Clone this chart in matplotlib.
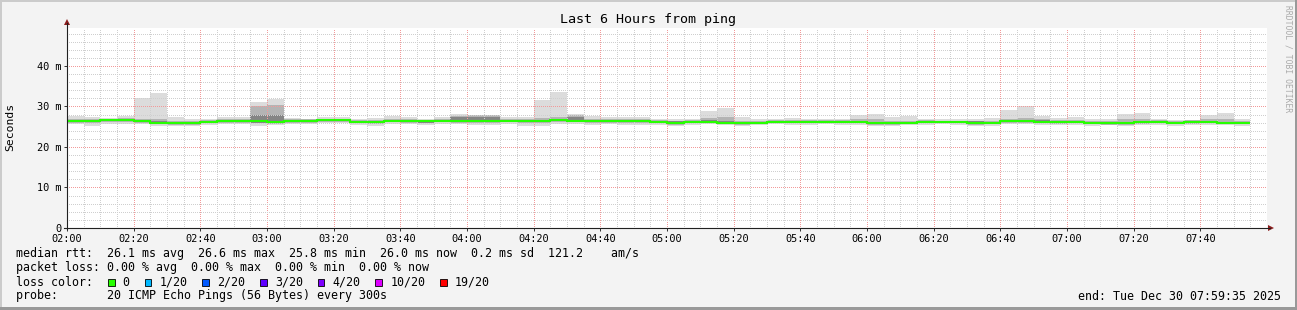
import numpy as np
import matplotlib
matplotlib.use("Agg")
import matplotlib.pyplot as plt
from matplotlib.patches import Rectangle, Polygon
from matplotlib.lines import Line2D

# 5 minute bins starting at 02:00, values in ms
rtt_median = [26.4, 26.5, 26.6, 26.6, 26.4, 26.0, 25.9, 25.9, 26.2, 26.4,
              26.4, 26.3, 26.1, 26.3, 26.4, 26.6, 26.6, 26.2, 26.1, 26.5,
              26.4, 26.3, 26.5, 26.5, 26.5, 26.5, 26.5, 26.5, 26.5, 26.6,
              26.5, 26.4, 26.4, 26.4, 26.4, 26.2, 25.9, 26.2, 26.2, 26.0,
              25.9, 25.9, 26.2, 26.2, 26.2, 26.2, 26.2, 26.2, 25.9, 25.9,
              25.9, 26.2, 26.2, 26.2, 25.9, 25.9, 26.4, 26.4, 26.2, 26.1,
              26.1, 26.0, 25.9, 25.9, 26.1, 26.1, 25.9, 26.1, 26.1, 25.9,
              26.0]
rtt_max = [27.6, 27.3, 27.2, 27.6, 32.2, 33.3, 27.5, 27.0, 26.9, 27.3,
           27.5, 31.1, 31.9, 27.2, 27.0, 27.4, 27.4, 27.0, 27.1, 27.6,
           27.4, 27.0, 27.3, 28.1, 28.0, 28.0, 27.5, 27.4, 31.6, 33.6,
           28.1, 27.6, 27.5, 27.5, 27.3, 27.0, 26.9, 27.0, 28.9, 29.7,
           27.5, 26.8, 26.8, 27.2, 27.0, 27.0, 27.0, 28.0, 28.1, 27.5,
           27.7, 27.0, 26.8, 26.8, 27.0, 27.2, 29.1, 30.2, 27.7, 27.2,
           27.5, 26.9, 26.9, 28.1, 28.5, 27.0, 26.7, 26.7, 27.9, 28.5,
           26.9]
rtt_min = [25.7, 25.2, 25.6, 25.7, 25.7, 25.3, 25.3, 25.3, 25.5, 25.7,
           25.6, 25.3, 25.4, 25.6, 25.6, 25.8, 25.8, 25.5, 25.3, 25.6,
           25.6, 25.4, 25.7, 25.6, 25.4, 25.5, 25.6, 25.3, 25.2, 25.6,
           25.6, 25.5, 25.6, 25.4, 25.5, 25.4, 25.3, 25.4, 25.6, 25.4,
           25.3, 25.4, 25.6, 25.5, 25.5, 25.6, 25.5, 25.4, 25.2, 25.3,
           25.4, 25.5, 25.6, 25.5, 25.2, 25.3, 25.6, 25.6, 25.4, 25.4,
           25.5, 25.3, 25.4, 25.2, 25.4, 25.5, 25.3, 25.4, 25.5, 25.4,
           25.3]
# inner smoke (middle pings)
mid_hi = [26.9, 27.0, 27.0, 27.1, 27.0, 27.0, 26.5, 26.4, 26.6, 26.9,
          26.9, 30.0, 30.4, 26.8, 26.8, 27.0, 27.0, 26.7, 26.6, 27.0,
          26.9, 26.7, 26.9, 27.6, 27.9, 27.9, 26.9, 26.9, 27.2, 27.4,
          27.9, 26.9, 26.9, 26.9, 26.8, 26.6, 26.5, 26.6, 27.2, 27.3,
          26.5, 26.4, 26.6, 26.7, 26.6, 26.6, 26.7, 27.0, 27.0, 26.4,
          26.5, 26.6, 26.5, 26.5, 26.5, 26.4, 27.0, 27.1, 26.8, 26.7,
          26.6, 26.5, 26.4, 27.0, 27.0, 26.6, 26.4, 26.6, 26.8, 26.8,
          26.5]
mid_lo = [26.0, 25.8, 26.1, 26.2, 26.0, 25.6, 25.5, 25.5, 25.8, 26.0,
          26.0, 25.8, 25.7, 25.9, 26.0, 26.2, 26.2, 25.8, 25.6, 26.1,
          26.0, 25.8, 26.1, 26.0, 25.9, 26.0, 26.1, 25.9, 25.9, 26.1,
          26.1, 26.0, 26.0, 25.9, 26.0, 25.8, 25.5, 25.8, 25.9, 25.7,
          25.5, 25.6, 25.8, 25.8, 25.8, 25.9, 25.8, 25.8, 25.5, 25.5,
          25.6, 25.8, 25.9, 25.8, 25.5, 25.6, 26.0, 26.0, 25.8, 25.7,
          25.8, 25.6, 25.5, 25.5, 25.7, 25.8, 25.6, 25.7, 25.8, 25.6,
          25.6]
core_hi = [26.6, 26.7, 26.8, 26.8, 26.6, 26.3, 26.1, 26.1, 26.4, 26.6,
           26.6, 28.0, 28.0, 26.5, 26.6, 26.8, 26.8, 26.4, 26.3, 26.7,
           26.6, 26.5, 26.7, 27.4, 27.5, 27.3, 26.7, 26.7, 26.7, 26.8,
           27.3, 26.6, 26.6, 26.6, 26.6, 26.4, 26.4, 26.4, 26.6, 26.5,
           26.1, 26.1, 26.5, 26.4, 26.4, 26.4, 26.4, 26.4, 26.1, 26.1,
           26.1, 26.4, 26.4, 26.4, 26.3, 26.1, 26.6, 26.6, 26.6, 26.5,
           26.3, 26.2, 26.1, 26.2, 26.3, 26.3, 26.1, 26.5, 26.3, 26.1,
           26.2]
core_lo = [26.2, 26.2, 26.4, 26.4, 26.2, 25.8, 25.7, 25.7, 26.0, 26.2,
           26.2, 26.0, 25.8, 26.1, 26.2, 26.4, 26.4, 26.0, 25.8, 26.3,
           26.2, 26.0, 26.3, 26.3, 26.2, 26.3, 26.3, 26.2, 26.2, 26.4,
           26.3, 26.2, 26.2, 26.2, 26.2, 25.9, 25.6, 26.0, 26.0, 25.8,
           25.6, 25.7, 26.0, 26.0, 26.0, 26.0, 25.9, 26.0, 25.7, 25.7,
           25.7, 26.0, 26.0, 26.0, 25.6, 25.7, 26.2, 26.2, 26.0, 25.9,
           25.9, 25.8, 25.7, 25.7, 25.9, 25.9, 25.7, 25.9, 25.9, 25.6,
           25.7]

x_labels = ["02:00", "02:20", "02:40", "03:00", "03:20", "03:40", "04:00",
            "04:20", "04:40", "05:00", "05:20", "05:40", "06:00", "06:20",
            "06:40", "07:00", "07:20", "07:40"]
y_ticks = [0, 10, 20, 30, 40]
y_labels = ["0", "10 m", "20 m", "30 m", "40 m"]

loss_labels = ["0", "1/20", "2/20", "3/20", "4/20", "10/20", "19/20"]
loss_colors = ["#26ff00", "#00b8ff", "#0059ff", "#5e00ff", "#7e00ff", "#dd00ff", "#ff0000"]

# legend numbers
rtt_avg, rtt_mx, rtt_mn, rtt_now, rtt_sd, rtt_ams = 26.1, 26.6, 25.8, 26.0, 0.2, 121.2
loss_avg, loss_mx, loss_mn, loss_now = 0.0, 0.0, 0.0, 0.0

W, H = 1297, 310


def fx(px):
    return px / W


def fy(py):
    return 1 - py / H


plt.rcParams['font.family'] = ['DejaVu Sans Mono']

fig = plt.figure(figsize=(W / 100, H / 100), dpi=100, facecolor="#f3f3f3")
ax = fig.add_axes([fx(67), fy(228), 1200 / W, 200.5 / H])
ax.set_facecolor("white")
ax.set_xlim(0, 360)
ax.set_ylim(0, 49.5)

edges = np.arange(len(rtt_median) + 1) * 5
starts = edges[:-1]

# smoke layers
ax.bar(starts, np.array(rtt_max) - np.array(rtt_min), width=5, bottom=rtt_min,
       align="edge", color="#dcdcdc", linewidth=0, zorder=1)
ax.bar(starts, np.array(mid_hi) - np.array(mid_lo), width=5, bottom=mid_lo,
       align="edge", color="#b4b4b4", linewidth=0, zorder=1)
ax.bar(starts, np.array(core_hi) - np.array(core_lo), width=5, bottom=core_lo,
       align="edge", color="#858585", linewidth=0, zorder=1)
# median
ax.stairs(rtt_median, edges, baseline=None, color="#26ff00", linewidth=1.5, zorder=3)

# grid
ax.set_xticks(np.arange(0, 360, 20))
ax.set_xticklabels(x_labels)
ax.set_xticks([m for m in range(5, 360, 5) if m % 20], minor=True)
ax.set_yticks(y_ticks)
ax.set_yticklabels(y_labels)
ax.set_yticks([v for v in range(2, 50, 2) if v % 10], minor=True)
ax.grid(which="minor", color="#cfcfcf", linestyle=(0, (1, 2)), linewidth=0.72,
        antialiased=False)
ax.grid(which="major", color="#f29a9a", linestyle=(0, (1, 2)), linewidth=0.72,
        antialiased=False)
ax.tick_params(which="major", length=2, width=0.72, color="#333333",
               labelsize=7.4, pad=2)
ax.tick_params(which="minor", length=0)
for s in ax.spines.values():
    s.set_visible(False)

# axes with arrows
axis_col = "#202020"
fig.add_artist(Line2D([fx(67), fx(67)], [fy(229), fy(23)], color=axis_col, lw=0.8))
fig.add_artist(Line2D([fx(64), fx(1270)], [fy(228), fy(228)], color=axis_col, lw=0.8))
arrow_col = "#8b1c1c"
fig.add_artist(Polygon([[fx(64), fy(25)], [fx(70), fy(25)], [fx(67), fy(19)]],
                       closed=True, color=arrow_col, lw=0))
fig.add_artist(Polygon([[fx(1268), fy(225)], [fx(1268), fy(231)], [fx(1274), fy(228)]],
                       closed=True, color=arrow_col, lw=0))

# frame
fig.add_artist(Rectangle((0, fy(2)), 1, 2 / H, color="#cbcbcb", lw=0))
fig.add_artist(Rectangle((0, 0), 2 / W, 1, color="#cbcbcb", lw=0))
fig.add_artist(Rectangle((0, 0), 1, 3 / H, color="#999999", lw=0))
fig.add_artist(Rectangle((1 - 2 / W, 0), 2 / W, 1, color="#999999", lw=0))

fig.text(0.5, fy(19), "Last 6 Hours from ping", ha="center", va="center", fontsize=9.6)
fig.text(fx(10), fy(127), "Seconds", rotation=90, ha="center", va="center", fontsize=8.2)
fig.text(fx(1288), fy(5), "RRDTOOL / TOBI OETIKER", rotation=270, ha="center",
         va="top", fontsize=5.8, color="#aaaaaa")

# legend
x0 = 16
cw = 7.0
fs = cw / 0.602 * 0.72
line1 = (f"median rtt:  {rtt_avg:.1f} ms avg  {rtt_mx:.1f} ms max  {rtt_mn:.1f} ms min  "
         f"{rtt_now:.1f} ms now  {rtt_sd:.1f} ms sd  {rtt_ams:.1f}    am/s")
line2 = (f"packet loss: {loss_avg:.2f} % avg  {loss_mx:.2f} % max  "
         f"{loss_mn:.2f} % min  {loss_now:.2f} % now")
line4 = "probe:       20 ICMP Echo Pings (56 Bytes) every 300s"

for txt, y in [(line1, 254), (line2, 268), ("loss color:", 282), (line4, 296)]:
    fig.text(fx(x0), fy(y), txt, ha="left", va="center", fontsize=fs)

# swatch + label entries
px = x0 + 13 * cw + 1
for lbl, c in zip(loss_labels, loss_colors):
    fig.add_artist(Rectangle((fx(px), fy(285.5)), 6.5 / W, 7 / H, facecolor=c,
                             edgecolor="black", lw=0.6))
    lx = px + 14.7
    fig.text(fx(lx), fy(282), lbl, ha="left", va="center", fontsize=fs)
    px = lx + len(lbl) * cw + 15

fig.text(fx(1281), fy(296), "end: Tue Dec 30 07:59:35 2025", ha="right", va="center",
         fontsize=fs)

fig.savefig("out.png", dpi=100, facecolor=fig.get_facecolor())
